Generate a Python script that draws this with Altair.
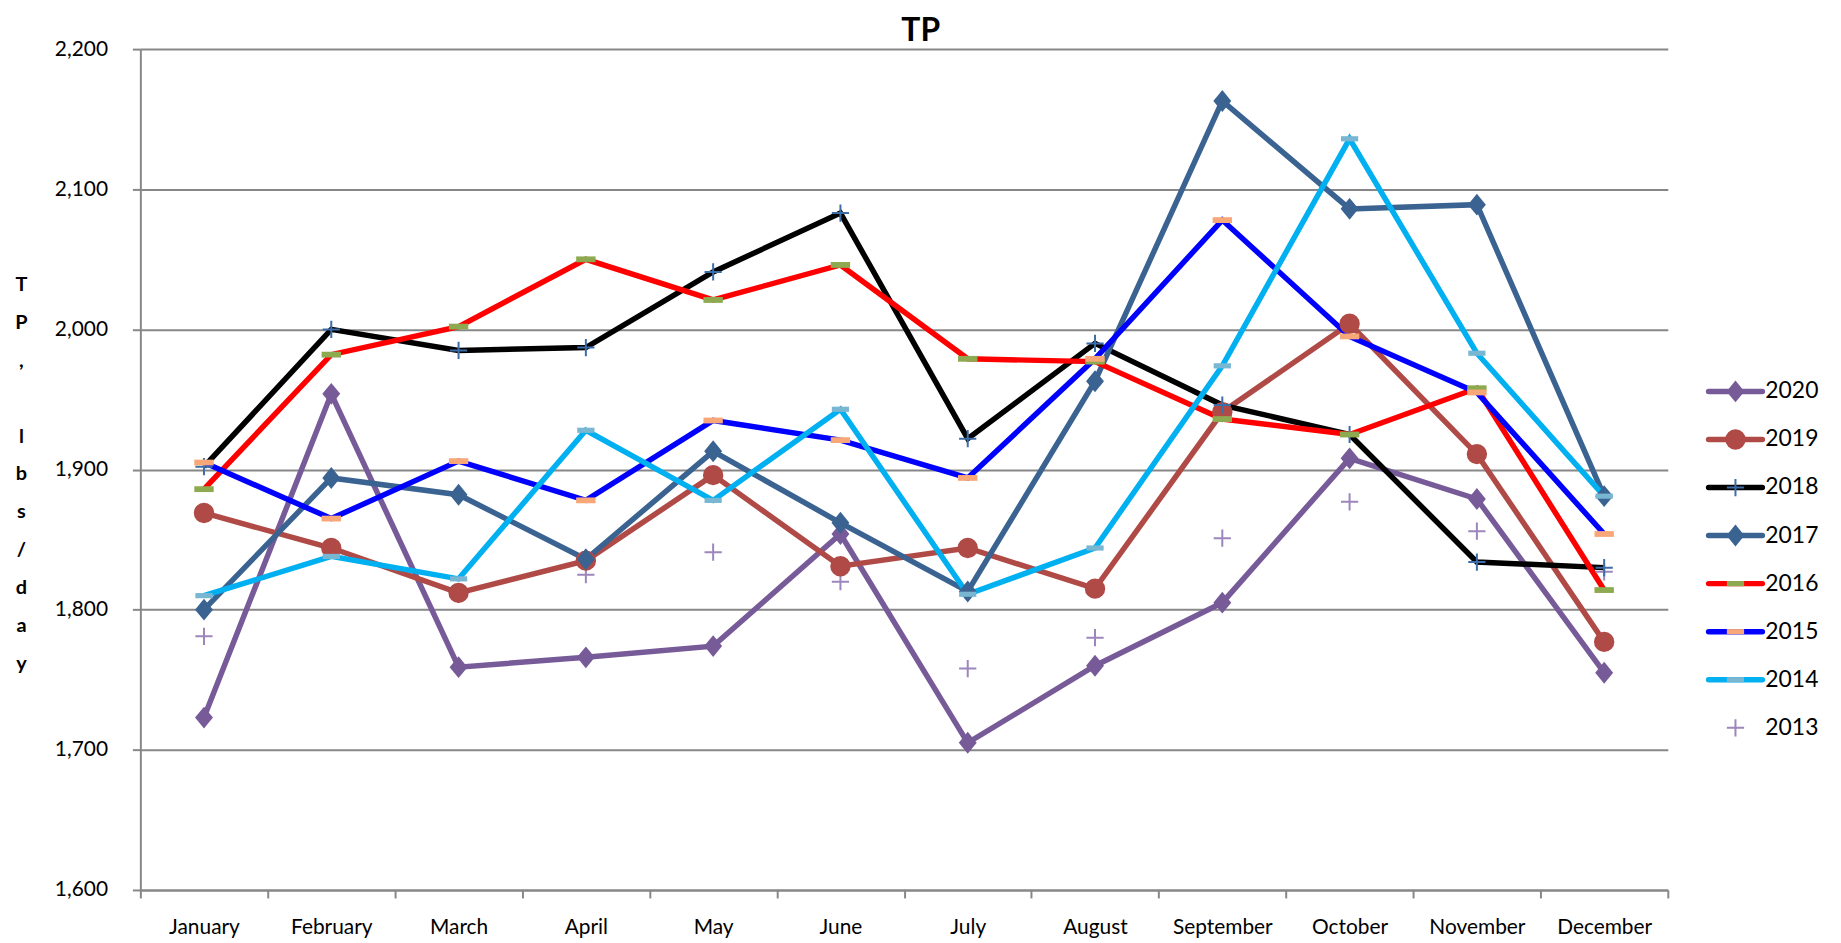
import altair as alt
import pandas as pd

months = ["January", "February", "March", "April", "May", "June", "July",
          "August", "September", "October", "November", "December"]
years = ["2020", "2019", "2018", "2017", "2016", "2015", "2014", "2013"]

tp_2020 = [1723, 1954, 1759, 1766, 1774, 1854, 1705, 1760, 1805, 1908, 1879, 1755]
tp_2019 = [1869, 1844, 1812, 1835, 1896, 1831, 1844, 1815, 1941, 2004, 1911, 1777]
tp_2018 = [1902, 2000, 1985, 1987, 2041, 2083, 1922, 1990, 1946, 1925, 1834, 1830]
tp_2017 = [1800, 1894, 1882, 1836, 1913, 1862, 1813, 1963, 2163, 2086, 2089, 1881]
tp_2016 = [1886, 1982, 2002, 2050, 2021, 2046, 1979, 1977, 1936, 1925, 1958, 1814]
tp_2015 = [1905, 1865, 1906, 1878, 1935, 1921, 1894, 1979, 2078, 1995, 1955, 1854]
tp_2014 = [1810, 1838, 1822, 1928, 1878, 1943, 1811, 1844, 1974, 2136, 1983, 1881]
tp_2013 = [1781, 1845, 1811, 1825, 1841, 1820, 1758, 1780, 1851, 1877, 1856, 1827]

values = {"2020": tp_2020, "2019": tp_2019, "2018": tp_2018, "2017": tp_2017,
          "2016": tp_2016, "2015": tp_2015, "2014": tp_2014, "2013": tp_2013}

line_colors = {"2020": "#775A98", "2019": "#B04A46", "2018": "#000000", "2017": "#3A6391",
               "2016": "#FF0000", "2015": "#0000FF", "2014": "#00B0F0", "2013": None}
marker_colors = {"2020": "#775A98", "2019": "#B04A46", "2018": "#3D6DA8", "2017": "#3A6391",
                 "2016": "#8EAA50", "2015": "#F8A878", "2014": "#78B6D2", "2013": "#9C86BC"}

DIAMOND = "M0,-1.1L0.9,0L0,1.1L-0.9,0Z"
DASH = "M-1,-0.3L1,-0.3L1,0.3L-1,0.3Z"
PLUS = "M-1,0L1,0M0,-1L0,1"
marker_shapes = {"2020": DIAMOND, "2019": "circle", "2018": PLUS, "2017": DIAMOND,
                 "2016": DASH, "2015": DASH, "2014": DASH, "2013": PLUS}
marker_sizes = {"2020": 400, "2019": 420, "2018": 300, "2017": 400,
                "2016": 380, "2015": 380, "2014": 300, "2013": 300}

FONT = "Lato"
W, H = 1535, 845

rows = []
for y in years:
    for m, v in zip(months, values[y]):
        rows.append({"year": y, "month": m, "tp": v})
df = pd.DataFrame(rows)

x_enc = alt.X("month:N", sort=months, bandPosition=0.5,
              scale=alt.Scale(type="band", paddingInner=0, paddingOuter=0),
              axis=alt.Axis(title=None, tickBand="extent", labelAngle=0,
                            labelFontSize=21, labelFont=FONT, labelColor="#000000",
                            labelPadding=19, tickSize=8, tickColor="#878787",
                            tickWidth=2, domainColor="#878787", domainWidth=2,
                            gridColor="#878787", gridWidth=2))
y_enc = alt.Y("tp:Q", scale=alt.Scale(domain=[1600, 2200], nice=False, zero=False),
              axis=alt.Axis(values=[1600, 1700, 1800, 1900, 2000, 2100, 2200], format=",.0f",
                            title=["T", "P", ",", "\u2800", "l", "b", "s", "/", "d", "a", "y"],
                            titleAngle=0, titleFont=FONT, titleFontSize=20,
                            titleFontWeight="bold", titleLineHeight=38,
                            titleAlign="center", titleBaseline="middle",
                            titleX=-120, titleY=237,
                            labelFontSize=21, labelFont=FONT, labelColor="#000000",
                            labelPadding=25, tickSize=8, tickColor="#878787",
                            tickWidth=2, domainColor="#878787", domainWidth=2,
                            gridColor="#878787", gridWidth=2))

layers = []
draw_order = ["2013", "2020", "2019", "2018", "2017", "2016", "2015", "2014"]
for y in draw_order:
    sub = df[df["year"] == y]
    if line_colors[y] is not None:
        layers.append(alt.Chart(sub).mark_line(color=line_colors[y], strokeWidth=5.5)
                      .encode(x=x_enc, y=y_enc))
for y in draw_order:
    sub = df[df["year"] == y]
    if marker_shapes[y] == PLUS:
        pm = alt.Chart(sub).mark_point(shape=PLUS, filled=False, stroke=marker_colors[y],
                                       strokeWidth=2, size=marker_sizes[y], opacity=1)
    else:
        pm = alt.Chart(sub).mark_point(shape=marker_shapes[y], filled=True,
                                       color=marker_colors[y], size=marker_sizes[y], opacity=1)
    layers.append(pm.encode(x=x_enc, y=y_enc))

main = alt.layer(*layers).properties(width=W, height=H)

# legend panel
leg = pd.DataFrame({"year": years})
leg_y = alt.Y("year:N", sort=years, axis=None,
              scale=alt.Scale(type="point", domain=years, range=[344, 682], padding=0))
leg_layers = []
for y in years:
    sub = leg[leg["year"] == y]
    if line_colors[y] is not None:
        leg_layers.append(alt.Chart(sub).mark_rule(color=line_colors[y], strokeWidth=5.5,
                                                   strokeCap="round")
                          .encode(x=alt.value(40), x2=alt.value(94), y=leg_y))
    if marker_shapes[y] == PLUS:
        pm = alt.Chart(sub).mark_point(shape=PLUS, filled=False, stroke=marker_colors[y],
                                       strokeWidth=2, size=marker_sizes[y], opacity=1)
    elif marker_shapes[y] == DASH:
        pm = alt.Chart(sub).mark_point(shape=DASH, filled=True, color=marker_colors[y],
                                       size=300, opacity=1)
    else:
        pm = alt.Chart(sub).mark_point(shape=marker_shapes[y], filled=True,
                                       color=marker_colors[y], size=marker_sizes[y], opacity=1)
    leg_layers.append(pm.encode(x=alt.value(67), y=leg_y))
leg_layers.append(alt.Chart(leg).mark_text(align="left", baseline="middle", font=FONT,
                                           fontSize=23, color="#000000")
                  .encode(x=alt.value(97), y=leg_y, text="year:N"))
legend_panel = alt.layer(*leg_layers).properties(width=160, height=H)

chart = alt.hconcat(main, legend_panel, spacing=0).properties(
    title=alt.TitleParams("TP", font=FONT, fontSize=32, fontWeight="bold",
                          anchor="middle", color="#000000", offset=-10),
    background="white",
).configure_view(stroke=None)

chart.save("out.html", embed_options={"renderer": "svg", "actions": False})
